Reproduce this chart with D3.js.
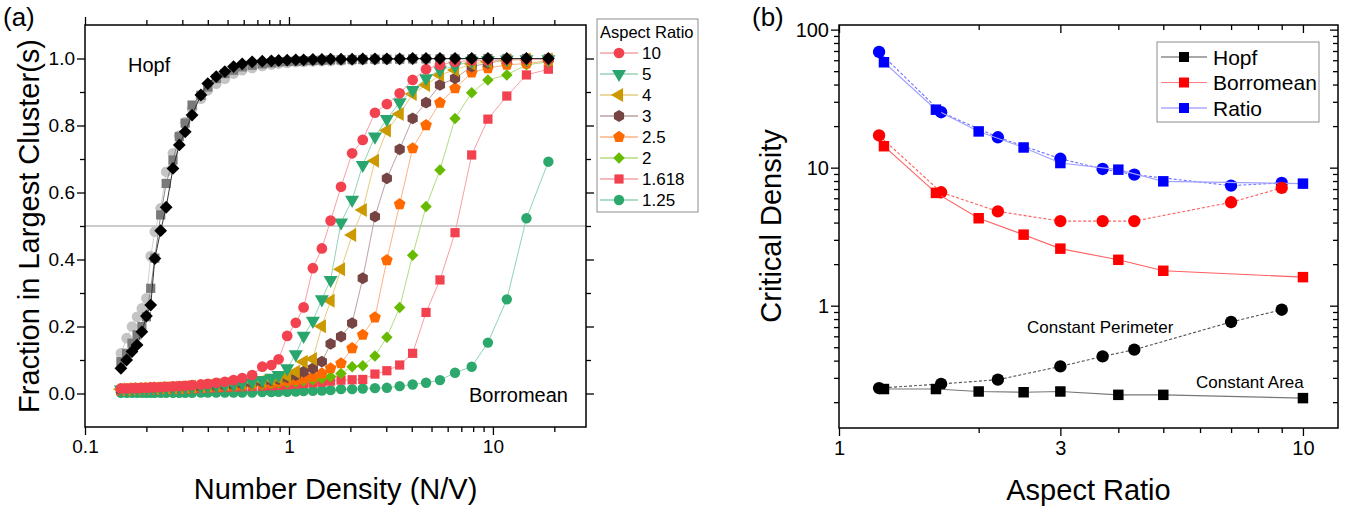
<!DOCTYPE html>
<html><head><meta charset="utf-8">
<script src="https://cdn.jsdelivr.net/npm/d3@7"></script>
<style>
body{margin:0;background:#fff}
svg{display:block}
text{font-family:Arial,"Liberation Sans",sans-serif;fill:#000}
</style>
</head><body>
<svg id="c" width="1350" height="509"></svg>
<script>
// ---------------- Panel (a) data ----------------
const density = [0.15,0.16,0.17,0.18,0.19,0.20,0.21,0.22,0.235,0.25,0.27,0.29,0.31,0.335,0.37,0.40,0.44,0.485,0.535,0.59,0.66,0.74,0.82,0.89,0.98,1.08,1.18,1.31,1.45,1.60,1.80,2.04,2.30,2.64,3.02,3.49,4.04,4.70,5.5,6.52,7.87,9.45,11.7,14.6,18.7];

const hopfLight = [0.12,0.165,0.20,0.229,0.254,0.284,0.41,0.483,0.553,0.662,0.717,0.77,0.81,0.85,0.88,0.905,0.925,0.94,0.955,0.965,0.972,0.978,0.982,0.985,0.987,0.989,0.99,0.991,0.992,0.993,0.994,0.995,0.996,0.996,0.997,0.997,0.998,0.998,0.998,0.999,0.999,0.999,0.999,1.0,1.0];
const hopfGray = [0.095,0.12,0.15,0.175,0.20,0.229,0.314,0.404,0.533,0.627,0.697,0.767,0.807,0.861,0.89,0.915,0.94,0.955,0.965,0.975,0.98,0.984,0.987,0.99,0.991,0.992,0.993,0.994,0.995,0.996,0.996,0.997,0.997,0.998,0.998,0.998,0.999,0.999,0.999,0.999,0.999,1.0,1.0,1.0,1.0];
const hopfBlack = [0.075,0.10,0.125,0.145,0.184,0.231,0.264,0.403,0.486,0.556,0.672,0.742,0.781,0.831,0.891,0.925,0.946,0.961,0.976,0.984,0.990,0.992,0.993,0.994,0.995,0.996,0.996,0.997,0.997,0.998,0.998,0.998,0.999,0.999,0.999,0.999,1.0,1.0,1.0,1.0,1.0,1.0,1.0,1.0,1.0];

const aspectLabels = ["10","5","4","3","2.5","2","1.618","1.25"];
const ar10 = [0.015,0.015,0.016,0.016,0.017,0.017,0.018,0.018,0.019,0.020,0.021,0.022,0.023,0.025,0.027,0.029,0.032,0.035,0.040,0.046,0.055,0.080,0.085,0.102,0.172,0.211,0.257,0.374,0.433,0.516,0.617,0.717,0.757,0.838,0.864,0.896,0.936,0.968,0.981,0.990,0.994,0.995,0.997,0.998,0.998];
const ar5 = [0.012,0.012,0.013,0.013,0.014,0.014,0.015,0.015,0.016,0.016,0.017,0.018,0.019,0.020,0.021,0.022,0.024,0.026,0.028,0.031,0.035,0.040,0.047,0.055,0.075,0.117,0.172,0.217,0.281,0.339,0.510,0.578,0.682,0.767,0.819,0.869,0.906,0.941,0.966,0.978,0.993,0.995,0.997,0.998,0.998];
const ar4 = [0.013,0.013,0.014,0.014,0.015,0.015,0.016,0.016,0.017,0.017,0.018,0.019,0.020,0.021,0.022,0.024,0.026,0.028,0.030,0.032,0.035,0.038,0.042,0.046,0.052,0.065,0.095,0.103,0.201,0.277,0.371,0.473,0.548,0.695,0.785,0.834,0.894,0.921,0.951,0.966,0.984,0.990,0.995,0.997,0.998];
const ar3 = [0.011,0.011,0.012,0.012,0.013,0.013,0.014,0.014,0.015,0.015,0.016,0.017,0.018,0.019,0.020,0.021,0.022,0.024,0.026,0.029,0.032,0.035,0.039,0.043,0.048,0.055,0.065,0.075,0.095,0.148,0.170,0.210,0.344,0.528,0.642,0.729,0.821,0.868,0.921,0.941,0.976,0.986,0.996,0.997,0.998];
const ar25 = [0.010,0.010,0.011,0.011,0.012,0.012,0.013,0.013,0.014,0.014,0.015,0.016,0.017,0.018,0.019,0.020,0.021,0.022,0.024,0.026,0.028,0.030,0.032,0.035,0.038,0.040,0.045,0.050,0.060,0.075,0.090,0.135,0.175,0.227,0.398,0.565,0.732,0.801,0.868,0.911,0.958,0.971,0.981,0.985,0.993];
const ar2 = [0.009,0.009,0.010,0.010,0.011,0.011,0.012,0.012,0.013,0.013,0.014,0.015,0.015,0.016,0.017,0.018,0.019,0.020,0.021,0.023,0.025,0.027,0.029,0.031,0.033,0.035,0.038,0.041,0.045,0.050,0.060,0.080,0.083,0.112,0.168,0.257,0.413,0.558,0.667,0.821,0.898,0.936,0.951,0.981,0.990];
const ar1618 = [0.008,0.008,0.009,0.009,0.010,0.010,0.011,0.011,0.012,0.012,0.013,0.013,0.014,0.014,0.015,0.016,0.017,0.018,0.019,0.020,0.021,0.022,0.023,0.024,0.026,0.028,0.030,0.032,0.034,0.037,0.040,0.041,0.042,0.058,0.068,0.085,0.120,0.242,0.339,0.480,0.712,0.819,0.888,0.951,0.968];
const ar125 = [0.002,0.002,0.002,0.002,0.002,0.002,0.002,0.002,0.002,0.002,0.002,0.002,0.002,0.002,0.003,0.003,0.003,0.003,0.003,0.003,0.003,0.004,0.004,0.005,0.005,0.006,0.007,0.008,0.009,0.010,0.013,0.013,0.015,0.016,0.017,0.022,0.027,0.032,0.040,0.062,0.080,0.152,0.281,0.523,0.692];

// ---------------- Panel (b) data ----------------
const arArea = [1.25,1.618,2,2.5,3,4,5,10];
const hopfArea = [0.249,0.249,0.239,0.236,0.239,0.226,0.226,0.214];
const borArea = [14.3,6.56,4.3,3.27,2.59,2.15,1.79,1.61];
const ratioArea = [58.0,26.3,18.3,14.0,10.8,9.67,7.96,7.66];
const arPerim = [1.22,1.66,2.2,3.0,3.7,4.33,7.0,9.0];
const hopfPerim = [0.253,0.271,0.291,0.363,0.429,0.48,0.762,0.935];
const borPerim = [17.1,6.63,4.82,4.1,4.1,4.1,5.61,7.13];
const ratioPerim = [68.9,25.2,16.6,11.6,9.78,8.9,7.41,7.75];
const legendB = ["Hopf","Borromean","Ratio"];

// ---------------- helpers ----------------
const svg = d3.select("#c");
const FONT = 'Arial,"Liberation Sans",sans-serif';

function polygonSymbol(n, rot){
  return {draw(ctx, size){
    const r = Math.sqrt(size/(n/2*Math.sin(2*Math.PI/n)));
    for(let i=0;i<n;i++){
      const a = rot + i*2*Math.PI/n;
      const x = r*Math.cos(a), y = r*Math.sin(a);
      if(i===0) ctx.moveTo(x,y); else ctx.lineTo(x,y);
    }
    ctx.closePath();
  }};
}
const symHex = polygonSymbol(6, -Math.PI/2);
const symPent = polygonSymbol(5, -Math.PI/2);

function drawFrame(g, x0, y0, x1, y1){
  g.append("rect").attr("x",x0).attr("y",y0).attr("width",x1-x0).attr("height",y1-y0)
   .attr("fill","none").attr("stroke","#000").attr("stroke-width",1.5);
}
function styleAxis(sel, fs){
  sel.select(".domain").remove();
  sel.selectAll("line").attr("stroke","#000").attr("stroke-width",1.3);
  sel.selectAll("text").attr("font-size",fs).attr("font-family",FONT).attr("fill","#000");
}

// ---------------- Panel (a) ----------------
const xA = d3.scaleLog().domain([0.1, 28.6]).range([85, 586]);
const yA = d3.scaleLinear().domain([-0.1, 1.1]).range([427, 25]);
const gA = svg.append("g");

const xMajA = [0.1,1,10];
const xMinA = [0.2,0.3,0.4,0.5,0.6,0.7,0.8,0.9,2,3,4,5,6,7,8,9,20];
const yMajA = [0,0.2,0.4,0.6,0.8,1.0];
const yMinA = [0.1,0.3,0.5,0.7,0.9];

gA.append("line").attr("x1",85).attr("x2",586).attr("y1",yA(0.5)).attr("y2",yA(0.5))
  .attr("stroke","#9a9a9a").attr("stroke-width",1.2);

gA.append("g").attr("transform","translate(0,427)")
  .call(d3.axisBottom(xA).tickValues(xMajA).tickSize(8).tickPadding(5).tickFormat(d=>d===0.1?"0.1":String(d)))
  .call(s=>styleAxis(s,19));
gA.append("g").attr("transform","translate(0,427)")
  .call(d3.axisBottom(xA).tickValues(xMinA).tickSize(5).tickFormat(""))
  .call(s=>styleAxis(s,19));
gA.append("g").attr("transform","translate(0,25)")
  .call(d3.axisTop(xA).tickValues(xMajA).tickSize(8).tickFormat(""))
  .call(s=>styleAxis(s,19));
gA.append("g").attr("transform","translate(0,25)")
  .call(d3.axisTop(xA).tickValues(xMinA).tickSize(5).tickFormat(""))
  .call(s=>styleAxis(s,19));
gA.append("g").attr("transform","translate(85,0)")
  .call(d3.axisLeft(yA).tickValues(yMajA).tickSize(8).tickPadding(2).tickFormat(d3.format(".1f")))
  .call(s=>styleAxis(s,19));
gA.append("g").attr("transform","translate(85,0)")
  .call(d3.axisLeft(yA).tickValues(yMinA).tickSize(5).tickFormat(""))
  .call(s=>styleAxis(s,19));
gA.append("g").attr("transform","translate(586,0)")
  .call(d3.axisRight(yA).tickValues(yMajA).tickSize(8).tickFormat(""))
  .call(s=>styleAxis(s,19));
gA.append("g").attr("transform","translate(586,0)")
  .call(d3.axisRight(yA).tickValues(yMinA).tickSize(5).tickFormat(""))
  .call(s=>styleAxis(s,19));

const seriesA = [
  {y:hopfLight, color:"#c4c4c4", line:"#d0d0d0", sym:d3.symbolCircle, size:90, rot:0},
  {y:hopfGray, color:"#7a7a7a", line:"#8a8a8a", sym:d3.symbolSquare, size:85, rot:0},
  {y:ar125, color:"#2da86c", line:"#8fd4b2", sym:d3.symbolCircle, size:85, rot:0},
  {y:ar1618, color:"#f2424f", line:"#f7a0a6", sym:d3.symbolSquare, size:85, rot:0},
  {y:ar2, color:"#66bb00", line:"#b2dd80", sym:d3.symbolSquare, size:66, rot:45},
  {y:ar25, color:"#ff6a00", line:"#ffb280", sym:symPent, size:90, rot:0},
  {y:ar3, color:"#774444", line:"#bba2a2", sym:symHex, size:90, rot:0},
  {y:ar4, color:"#cc9900", line:"#e6cc80", sym:d3.symbolTriangle, size:85, rot:-90},
  {y:ar5, color:"#29a66d", line:"#94d2b6", sym:d3.symbolTriangle, size:85, rot:180},
  {y:ar10, color:"#f2424f", line:"#f7a0a6", sym:d3.symbolCircle, size:90, rot:0},
  {y:hopfBlack, color:"#000000", line:"#333333", sym:d3.symbolSquare, size:82, rot:45}
];
const lineA = d3.line().x(d=>xA(d[0])).y(d=>yA(d[1]));
gA.append("clipPath").attr("id","clipA").append("rect")
  .attr("x",85).attr("y",25).attr("width",501).attr("height",402);
const plotA = gA.append("g").attr("clip-path","url(#clipA)");
seriesA.forEach(s=>{
  const pts = density.map((d,i)=>[d, s.y[i]]);
  plotA.append("path").attr("d",lineA(pts)).attr("fill","none")
    .attr("stroke",s.line).attr("stroke-width",1);
  plotA.selectAll(null).data(pts).enter().append("path")
    .attr("d",d3.symbol().type(s.sym).size(s.size))
    .attr("transform",d=>`translate(${xA(d[0])},${yA(d[1])}) rotate(${s.rot})`)
    .attr("fill",s.color);
});

drawFrame(gA,85,25,586,427);

gA.append("text").attr("x",3).attr("y",26).attr("font-size",26).text("(a)");
gA.append("text").attr("x",128).attr("y",72).attr("font-size",20).text("Hopf");
gA.append("text").attr("x",469).attr("y",402).attr("font-size",20).text("Borromean");
gA.append("text").attr("x",335.5).attr("y",499).attr("font-size",29).attr("text-anchor","middle").text("Number Density (N/V)");
gA.append("text").attr("transform","translate(39,226) rotate(-90)").attr("font-size",29)
  .attr("text-anchor","middle").text("Fraction in Largest Cluster(s)");

const legA = gA.append("g");
legA.append("rect").attr("x",597).attr("y",19).attr("width",101).attr("height",193)
  .attr("fill","#fff").attr("stroke","#8c8c8c").attr("stroke-width",1);
legA.append("text").attr("x",600).attr("y",38).attr("font-size",16.5).text("Aspect Ratio");
const legOrder = [9,8,7,6,5,4,3,2];
aspectLabels.forEach((lab,i)=>{
  const s = seriesA[legOrder[i]];
  const cy = 53 + i*21;
  legA.append("line").attr("x1",600).attr("x2",638).attr("y1",cy).attr("y2",cy)
    .attr("stroke",s.line).attr("stroke-width",1.3);
  legA.append("path").attr("d",d3.symbol().type(s.sym).size(s.size))
    .attr("transform",`translate(619,${cy}) rotate(${s.rot})`).attr("fill",s.color);
  legA.append("text").attr("x",642).attr("y",cy+6).attr("font-size",17).text(lab);
});

// ---------------- Panel (b) ----------------
const xB = d3.scaleLog().domain([1, 11.9]).range([839, 1338]);
const yB = d3.scaleLog().domain([0.13, 108]).range([428, 25]);
const gB = svg.append("g");

const xMajB = [1,3,10];
const xMinB = [2,4,5,6,7,8,9];
const yMajB = [1,10,100];
const yMinB = [0.2,0.3,0.4,0.5,0.6,0.7,0.8,0.9,2,3,4,5,6,7,8,9,20,30,40,50,60,70,80,90];

gB.append("g").attr("transform","translate(0,428)")
  .call(d3.axisBottom(xB).tickValues(xMajB).tickSize(8).tickPadding(5).tickFormat(d3.format("d")))
  .call(s=>styleAxis(s,20));
gB.append("g").attr("transform","translate(0,428)")
  .call(d3.axisBottom(xB).tickValues(xMinB).tickSize(5).tickFormat(""))
  .call(s=>styleAxis(s,20));
gB.append("g").attr("transform","translate(0,25)")
  .call(d3.axisBottom(xB).tickValues(xMajB).tickSize(8).tickFormat(""))
  .call(s=>styleAxis(s,20));
gB.append("g").attr("transform","translate(0,25)")
  .call(d3.axisBottom(xB).tickValues(xMinB).tickSize(5).tickFormat(""))
  .call(s=>styleAxis(s,20));
gB.append("g").attr("transform","translate(839,0)")
  .call(d3.axisLeft(yB).tickValues(yMajB).tickSize(8).tickPadding(2).tickFormat(d3.format("d")))
  .call(s=>styleAxis(s,20));
gB.append("g").attr("transform","translate(839,0)")
  .call(d3.axisLeft(yB).tickValues(yMinB).tickSize(5).tickFormat(""))
  .call(s=>styleAxis(s,20));
gB.append("g").attr("transform","translate(1338,0)")
  .call(d3.axisLeft(yB).tickValues(yMajB).tickSize(8).tickFormat(""))
  .call(s=>styleAxis(s,20));
gB.append("g").attr("transform","translate(1338,0)")
  .call(d3.axisLeft(yB).tickValues(yMinB).tickSize(5).tickFormat(""))
  .call(s=>styleAxis(s,20));

const lineB = d3.line().x(d=>xB(d[0])).y(d=>yB(d[1]));
const seriesB = [
  {x:arPerim, y:ratioPerim, color:"#0000ff", line:"#6f6fff", sym:d3.symbolCircle, size:120, dash:"3,2"},
  {x:arArea, y:ratioArea, color:"#0000ff", line:"#a0a0ff", sym:d3.symbolSquare, size:110, dash:null},
  {x:arPerim, y:borPerim, color:"#ff0000", line:"#ff6060", sym:d3.symbolCircle, size:120, dash:"3,2"},
  {x:arArea, y:borArea, color:"#ff0000", line:"#ff6060", sym:d3.symbolSquare, size:110, dash:null},
  {x:arPerim, y:hopfPerim, color:"#000000", line:"#555555", sym:d3.symbolCircle, size:120, dash:"3,2"},
  {x:arArea, y:hopfArea, color:"#000000", line:"#777777", sym:d3.symbolSquare, size:110, dash:null}
];
seriesB.forEach(s=>{
  const pts = s.x.map((d,i)=>[d, s.y[i]]);
  gB.append("path").attr("d",lineB(pts)).attr("fill","none")
    .attr("stroke",s.line).attr("stroke-width",1.1).attr("stroke-dasharray",s.dash);
  gB.selectAll(null).data(pts).enter().append("path")
    .attr("d",d3.symbol().type(s.sym).size(s.size))
    .attr("transform",d=>`translate(${xB(d[0])},${yB(d[1])})`)
    .attr("fill",s.color);
});

drawFrame(gB,839,25,1338,428);

gB.append("text").attr("x",752).attr("y",26).attr("font-size",26).text("(b)");
gB.append("text").attr("x",1027).attr("y",333).attr("font-size",17).text("Constant Perimeter");
gB.append("text").attr("x",1196).attr("y",388).attr("font-size",17).text("Constant Area");
gB.append("text").attr("x",1088.5).attr("y",500).attr("font-size",29).attr("text-anchor","middle").text("Aspect Ratio");
gB.append("text").attr("transform","translate(781,226) rotate(-90)").attr("font-size",29)
  .attr("text-anchor","middle").text("Critical Density");

const legB = gB.append("g");
legB.append("rect").attr("x",1157).attr("y",42).attr("width",162).attr("height",80)
  .attr("fill","#fff").attr("stroke","#8c8c8c").attr("stroke-width",1);
const legBColors = [["#000000","#555555"],["#ff0000","#ff8080"],["#0000ff","#8080ff"]];
legendB.forEach((lab,i)=>{
  const cy = 57 + i*25.5;
  legB.append("line").attr("x1",1161).attr("x2",1207).attr("y1",cy).attr("y2",cy)
    .attr("stroke",legBColors[i][1]).attr("stroke-width",1.2);
  legB.append("path").attr("d",d3.symbol().type(d3.symbolSquare).size(100))
    .attr("transform",`translate(1184,${cy})`).attr("fill",legBColors[i][0]);
  legB.append("text").attr("x",1213).attr("y",cy+7.5).attr("font-size",21).text(lab);
});
</script>
</body></html>
